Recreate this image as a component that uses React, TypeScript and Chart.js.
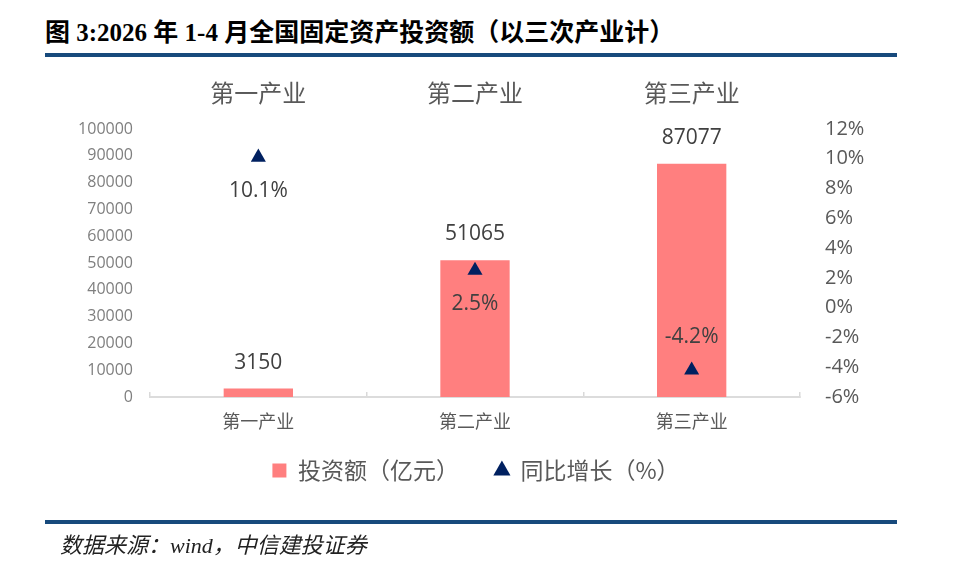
import React, { useEffect, useRef } from 'react';
import { Chart, registerables } from 'chart.js';

Chart.register(...registerables);

const categories = ['第一产业', '第二产业', '第三产业'];
const investment = [3150, 51065, 87077];
const growth = [10.1, 2.5, -4.2];
const seriesNames = ['投资额（亿元）', '同比增长（%）'];
const titleText = '图 3:2026 年 1-4 月全国固定资产投资额（以三次产业计）';
const sourceText = '数据来源：wind，中信建投证券';

const NUM_FONT = '"Open Sans", "Liberation Sans", sans-serif';
const CJK_FONT = '"Noto Sans CJK SC", sans-serif';

const valueLabels = {
  id: 'valueLabels',
  afterDatasetsDraw(chart: any) {
    const ctx = chart.ctx;
    ctx.save();
    ctx.font = `21px ${NUM_FONT}`;
    ctx.fillStyle = '#404040';
    ctx.textAlign = 'center';
    ctx.textBaseline = 'middle';
    chart.getDatasetMeta(0).data.forEach((el: any, i: number) => {
      ctx.fillText(String(investment[i]), el.x, el.y - 26);
    });
    chart.getDatasetMeta(1).data.forEach((el: any, i: number) => {
      const v = growth[i];
      ctx.fillText(v.toFixed(1) + '%', el.x, v >= 0 ? el.y + 34 : el.y - 33);
    });
    ctx.restore();
  },
};

export default function App() {
  const ref = useRef<HTMLCanvasElement>(null);
  useEffect(() => {
    if (!ref.current) return;
    const chart = new Chart(ref.current, {
      type: 'bar',
      data: {
        labels: categories,
        datasets: [
          {
            type: 'bar',
            label: seriesNames[0],
            data: investment,
            backgroundColor: '#FF7F7F',
            yAxisID: 'y',
            xAxisID: 'x',
            barPercentage: 0.32,
            categoryPercentage: 1,
            pointStyle: 'rect',
            order: 2,
          } as any,
          {
            type: 'line',
            label: seriesNames[1],
            data: growth,
            showLine: false,
            pointStyle: 'triangle',
            pointRadius: 8.7,
            pointHoverRadius: 8.7,
            backgroundColor: '#002060',
            borderColor: '#002060',
            borderWidth: 0,
            yAxisID: 'y1',
            xAxisID: 'x',
            order: 1,
          } as any,
        ],
      },
      options: {
        responsive: false,
        animation: false,
        events: [],
        layout: { padding: { top: 70, left: 0, right: 8, bottom: 81 } },
        plugins: {
          tooltip: { enabled: false },
          legend: {
            position: 'bottom',
            labels: {
              usePointStyle: true,
              boxWidth: 14,
              boxHeight: 14,
              padding: 36,
              color: '#595959',
              font: { size: 23, family: CJK_FONT },
              sort: (a: any, b: any) => a.datasetIndex - b.datasetIndex,
            },
          },
        },
        scales: {
          x: {
            position: 'bottom',
            offset: true,
            grid: { display: true, drawOnChartArea: false, drawTicks: true, tickLength: -5, color: '#D9D9D9', lineWidth: 1.5 },
            border: { display: true, color: '#DCDCDC', width: 2 },
            ticks: { font: { size: 18, family: CJK_FONT }, color: '#595959', padding: -35, mirror: true },
            afterFit: (s: any) => { s.height = 26; },
          },
          xTop: {
            type: 'category',
            position: 'top',
            labels: categories,
            offset: true,
            grid: { display: false, drawTicks: false },
            border: { display: false },
            ticks: { font: { size: 24, family: CJK_FONT }, color: '#595959', padding: 22 },
            afterFit: (s: any) => { s.height = 59; },
          },
          y: {
            position: 'left',
            min: 0,
            max: 100000,
            grid: { display: false, drawTicks: false },
            border: { display: false },
            ticks: {
              stepSize: 10000,
              font: { size: 16, family: NUM_FONT },
              color: '#7f7f7f',
              padding: 17,
              callback: (v: any) => String(v),
            },
            afterFit: (s: any) => { s.width = 150; },
          },
          y1: {
            position: 'right',
            min: -6,
            max: 12,
            grid: { display: false, drawTicks: false },
            border: { display: false },
            ticks: {
              stepSize: 2,
              font: { size: 20, family: NUM_FONT },
              color: '#595959',
              padding: 25,
              callback: (v: any) => v + '%',
            },
            afterFit: (s: any) => { s.width = 152; },
          },
        },
      } as any,
      plugins: [valueLabels],
    });
    return () => chart.destroy();
  }, []);

  return (
    <div style={{ position: 'absolute', left: 0, top: 0, width: 960, height: 573, background: '#fff', overflow: 'hidden' }}>
      <div
        style={{
          position: 'absolute', left: 45, top: 18, lineHeight: '30px', whiteSpace: 'nowrap',
          fontFamily: '"Liberation Serif", "Noto Sans CJK SC", serif', fontWeight: 'bold', fontSize: 25, color: '#000',
        }}
      >
        {titleText}
      </div>
      <div style={{ position: 'absolute', left: 45, top: 53, width: 852, height: 4, background: '#174a7c' }} />
      <canvas ref={ref} width={960} height={573} style={{ position: 'absolute', left: 0, top: 0, width: 960, height: 573 }} />
      <div style={{ position: 'absolute', left: 45, top: 520, width: 852, height: 4, background: '#174a7c' }} />
      <div
        style={{
          position: 'absolute', left: 60, top: 531, lineHeight: '30px', whiteSpace: 'nowrap',
          fontFamily: '"Liberation Serif", "Noto Sans CJK SC", serif', fontStyle: 'italic', fontSize: 22, color: '#222',
        }}
      >
        {sourceText}
      </div>
    </div>
  );
}
